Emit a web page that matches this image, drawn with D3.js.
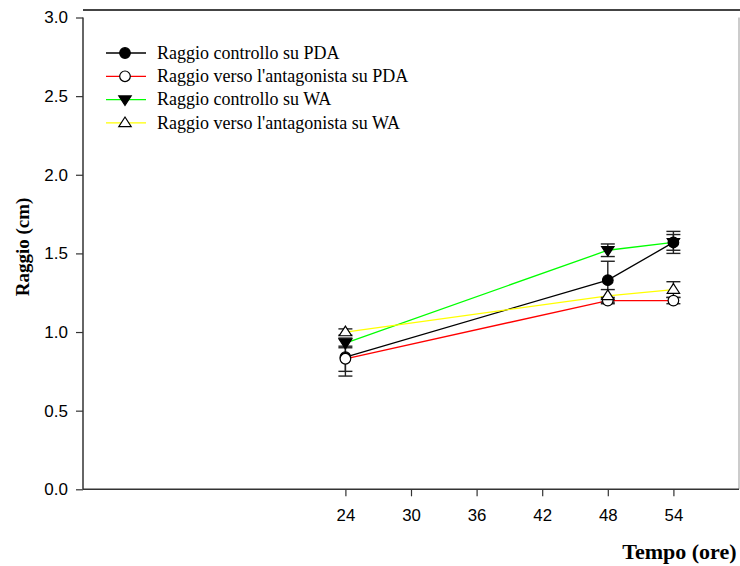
<!DOCTYPE html>
<html><head><meta charset="utf-8">
<script src="https://cdn.jsdelivr.net/npm/d3@7"></script>
<style>html,body{margin:0;padding:0;background:#fff;}svg{display:block;}</style>
</head><body>
<svg id="chart" width="740" height="566"></svg>
<script>
const hours = [24, 48, 54];
const xTicks = [24, 30, 36, 42, 48, 54];
const yTicks = [0, 0.5, 1.0, 1.5, 2.0, 2.5, 3.0];
const seriesNames = ["Raggio controllo su PDA", "Raggio verso l'antagonista su PDA", "Raggio controllo su WA", "Raggio verso l'antagonista su WA"];
const seriesColors = ["#000000", "#ff0000", "#00ff00", "#ffff00"];
const seriesSymbols = ["circleFilled", "circleOpen", "triDownFilled", "triUpOpen"];
const pdaControl = [0.84, 1.33, 1.57];
const pdaAntag = [0.83, 1.20, 1.20];
const waControl = [0.93, 1.52, 1.57];
const waAntag = [1.00, 1.23, 1.27];
const pdaControlErr = [0.12, 0.12, 0.07];
const pdaAntagErr = [0.08, 0.02, 0.02];
const waControlErr = [0.03, 0.04, 0.05];
const waAntagErr = [0.02, 0.04, 0.05];

const allValues = [pdaControl, pdaAntag, waControl, waAntag];
const allErrors = [pdaControlErr, pdaAntagErr, waControlErr, waAntagErr];

const svg = d3.select("#chart");
const mLeft = 83, mRight = 739, mTop = 17.5, mBottom = 489.3;
const x = d3.scaleLinear().domain([0, 60]).range([mLeft, mRight]);
const y = d3.scaleLinear().domain([0, 3]).range([mBottom, mTop]);

// top frame line and right border
svg.append("line").attr("x1", mLeft).attr("x2", 740).attr("y1", 10).attr("y2", 10)
  .attr("stroke", "#444").attr("stroke-width", 2);
svg.append("line").attr("x1", mRight).attr("x2", mRight).attr("y1", mTop).attr("y2", mBottom)
  .attr("stroke", "#999").attr("stroke-width", 1);

// axes
const yAxis = svg.append("g").attr("transform", `translate(${mLeft},0)`)
  .call(d3.axisLeft(y).tickValues(yTicks).tickFormat(d3.format(".1f")).tickSize(7).tickPadding(8));
const xAxis = svg.append("g").attr("transform", `translate(0,${mBottom})`)
  .call(d3.axisBottom(x).tickValues(xTicks).tickFormat(d3.format("d")).tickSize(7).tickPadding(13));
[yAxis, xAxis].forEach(g => {
  g.select(".domain").attr("stroke", "#333").attr("stroke-width", 1.5);
  g.selectAll(".tick line").attr("stroke", "#333").attr("stroke-width", 1.2);
  g.selectAll("text").attr("font-family", "Liberation Sans, Arial, sans-serif").attr("fill", "#000");
});
yAxis.selectAll("text").attr("font-size", 17);
xAxis.selectAll("text").attr("font-size", 16.8);
xAxis.select(".domain").attr("d", `M${mLeft},0H${mRight}`);
yAxis.select(".domain").attr("d", `M0,${mTop}V${mBottom}`);

// axis titles
svg.append("text").attr("x", 736.5).attr("y", 559).attr("text-anchor", "end")
  .attr("font-family", "Liberation Serif, Times New Roman, serif").attr("font-weight", "bold")
  .attr("font-size", 22).text("Tempo (ore)");
svg.append("text").attr("transform", "translate(29,247) rotate(-90)").attr("text-anchor", "middle")
  .attr("font-family", "Liberation Serif, Times New Roman, serif").attr("font-weight", "bold")
  .attr("font-size", 19).text("Raggio (cm)");

function drawSymbol(g, type, cx, cy) {
  if (type === "circleFilled" || type === "circleOpen") {
    g.append("circle").attr("cx", cx).attr("cy", cy).attr("r", 5.3)
      .attr("fill", type === "circleFilled" ? "#000" : "#fff").attr("stroke", "#000").attr("stroke-width", 1.2);
  } else {
    const s = 6.2;
    const pts = type === "triDownFilled"
      ? [[cx - s, cy - s * 0.6], [cx + s, cy - s * 0.6], [cx, cy + s * 0.95]]
      : [[cx - s, cy + s * 0.6], [cx + s, cy + s * 0.6], [cx, cy - s * 0.95]];
    g.append("polygon").attr("points", pts.map(p => p.join(",")).join(" "))
      .attr("fill", type === "triDownFilled" ? "#000" : "#fff").attr("stroke", "#000").attr("stroke-width", 1.2);
  }
}

const plot = svg.append("g");
// lines
allValues.forEach((vals, i) => {
  const line = d3.line().x((d, j) => x(hours[j])).y(d => y(d));
  plot.append("path").attr("d", line(vals)).attr("fill", "none")
    .attr("stroke", seriesColors[i]).attr("stroke-width", 1.3);
});
// error bars
allValues.forEach((vals, i) => {
  vals.forEach((v, j) => {
    const e = allErrors[i][j];
    const cx = x(hours[j]);
    const g = plot.append("g").attr("stroke", "#222").attr("stroke-width", 1.4);
    g.append("line").attr("x1", cx).attr("x2", cx).attr("y1", y(v - e)).attr("y2", y(v + e));
    g.append("line").attr("x1", cx - 7).attr("x2", cx + 7).attr("y1", y(v - e)).attr("y2", y(v - e));
    g.append("line").attr("x1", cx - 7).attr("x2", cx + 7).attr("y1", y(v + e)).attr("y2", y(v + e));
  });
});
// markers
allValues.forEach((vals, i) => {
  vals.forEach((v, j) => drawSymbol(plot, seriesSymbols[i], x(hours[j]), y(v)));
});

// legend
const legend = svg.append("g");
seriesNames.forEach((name, i) => {
  const ly = 53 + i * 23.3;
  legend.append("line").attr("x1", 106).attr("x2", 146).attr("y1", ly).attr("y2", ly)
    .attr("stroke", seriesColors[i]).attr("stroke-width", 1.3);
  drawSymbol(legend, seriesSymbols[i], 125, ly);
  legend.append("text").attr("x", 157).attr("y", ly + 5.8)
    .attr("font-family", "Liberation Serif, Times New Roman, serif").attr("font-size", 18)
    .text(name);
});
</script>
</body></html>
